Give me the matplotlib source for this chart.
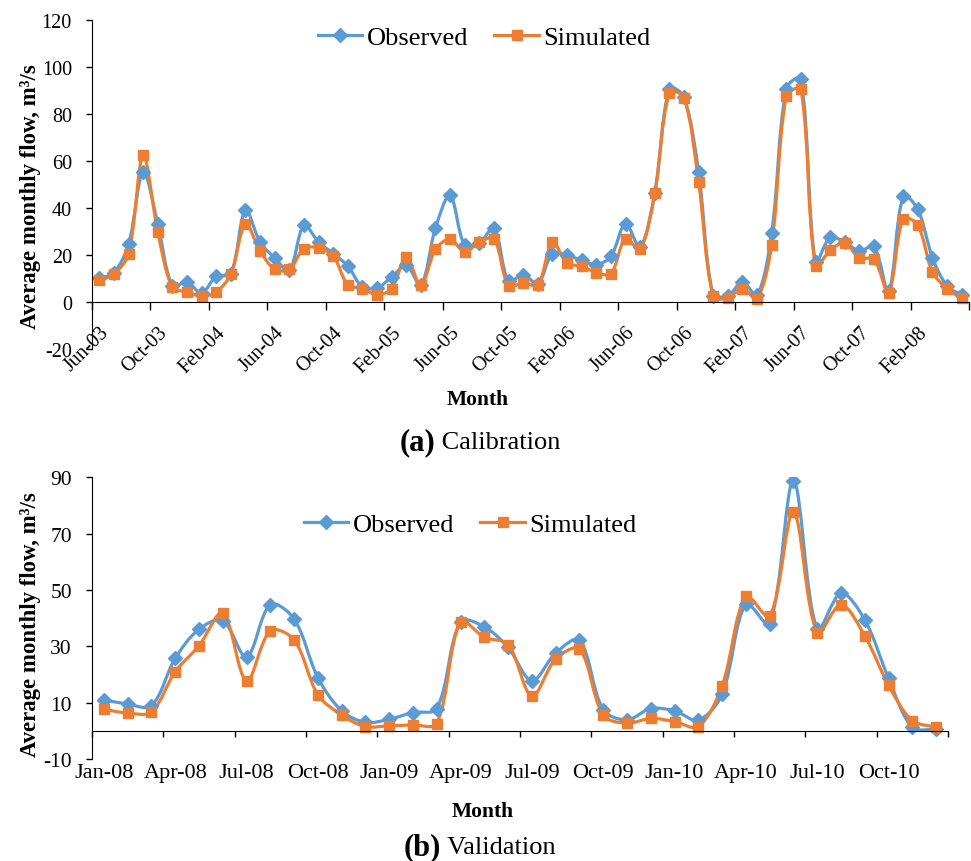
import numpy as np
import matplotlib
matplotlib.use("Agg")
import matplotlib.pyplot as plt
from matplotlib.path import Path
from matplotlib.patches import PathPatch
from matplotlib.lines import Line2D

plt.rcParams['font.family'] = ['Liberation Serif', 'DejaVu Serif']
plt.rcParams['axes.unicode_minus'] = False

# ---------------- data ----------------
cal_labels = ["Jun-03", "Oct-03", "Feb-04", "Jun-04", "Oct-04", "Feb-05", "Jun-05",
              "Oct-05", "Feb-06", "Jun-06", "Oct-06", "Feb-07", "Jun-07", "Oct-07", "Feb-08"]
cal_observed = [10.2, 12.5, 24.5, 55.3, 33.3, 6.8, 8.5, 3.8, 10.9, 11.9,
                39.0, 25.5, 18.7, 13.5, 32.6, 25.5, 20.6, 15.3, 6.4, 6.0,
                10.6, 15.6, 7.1, 31.5, 45.4, 24.1, 25.1, 31.5, 8.8, 11.6,
                7.8, 20.6, 19.9, 17.7, 15.9, 19.4, 33.3, 23.4, 46.4, 90.8,
                87.2, 55.3, 2.4, 2.4, 8.5, 2.8, 29.4, 90.8, 95.0, 17.0,
                27.5, 25.5, 21.7, 23.7, 4.5, 45.0, 39.4, 18.9, 6.8, 3.1]
cal_simulated = [9.2, 12.0, 20.4, 62.4, 29.8, 6.2, 4.3, 2.4, 4.3, 11.9,
                 33.2, 21.7, 13.9, 13.9, 22.7, 23.0, 19.6, 7.4, 5.7, 3.1,
                 5.7, 19.1, 7.1, 22.4, 26.7, 21.3, 25.5, 27.0, 6.8, 8.2,
                 7.1, 25.5, 16.6, 15.2, 12.5, 12.0, 27.0, 22.4, 46.4, 88.9,
                 87.0, 51.0, 2.4, 1.8, 5.7, 1.4, 24.4, 87.5, 90.5, 15.2,
                 22.0, 25.2, 18.7, 18.2, 4.0, 35.5, 32.6, 12.8, 5.7, 1.7]

val_labels = ["Jan-08", "Apr-08", "Jul-08", "Oct-08", "Jan-09", "Apr-09", "Jul-09",
              "Oct-09", "Jan-10", "Apr-10", "Jul-10", "Oct-10"]
val_observed = [11.0, 9.5, 8.9, 25.7, 36.1, 39.1, 26.3, 44.8, 39.7, 18.9,
                7.1, 3.0, 4.1, 6.5, 7.9, 38.7, 36.9, 29.6, 17.8, 27.6,
                32.2, 7.5, 3.9, 7.9, 7.1, 3.8, 13.0, 45.0, 37.9, 88.6,
                36.1, 48.8, 39.4, 18.7, 1.2, 0.8]
val_simulated = [7.7, 6.3, 6.7, 21.0, 30.2, 41.8, 17.8, 35.5, 32.3, 12.8,
                 5.6, 1.5, 1.8, 2.1, 2.6, 38.7, 33.2, 30.6, 12.4, 25.5,
                 29.0, 5.6, 2.7, 4.4, 3.3, 1.5, 16.0, 47.7, 40.6, 77.6,
                 34.9, 44.8, 33.7, 16.2, 3.6, 1.5]

BLUE = "#5B9BD5"
ORANGE = "#ED7D31"


def smooth_path(ax, x, y):
    """Excel-style smoothed line: cubic Bezier segments whose tangent lengths
    are weighted by neighbouring segment lengths measured on screen."""
    x = np.asarray(x, float)
    y = np.asarray(y, float)
    pts = np.column_stack([x, y])
    pix = ax.transData.transform(pts)
    n = len(x)
    seg = np.hypot(*(np.diff(pix, axis=0).T))

    def tangent(i):
        if i == 0 or i == n - 1:
            return np.zeros(2), 0.0, 0.0
        return pts[i + 1] - pts[i - 1], seg[i - 1], seg[i]

    verts = [tuple(pts[0])]
    codes = [Path.MOVETO]
    for i in range(n - 1):
        t0, a0, b0 = tangent(i)
        t1, a1, b1 = tangent(i + 1)
        k0 = (b0 / (a0 + b0) / 3.0) if (a0 + b0) > 0 else 0.0
        k1 = (a1 / (a1 + b1) / 3.0) if (a1 + b1) > 0 else 0.0
        c1 = pts[i] + t0 * k0
        c2 = pts[i + 1] - t1 * k1
        verts += [tuple(c1), tuple(c2), tuple(pts[i + 1])]
        codes += [Path.CURVE4] * 3
    return Path(verts, codes)


def draw_series(ax, y, color, marker, ms):
    x = np.arange(len(y))
    patch = PathPatch(smooth_path(ax, x, y), fill=False, edgecolor=color, lw=2.3,
                      capstyle='round', joinstyle='round')
    ax.add_patch(patch)
    ax.plot(x, y, linestyle='none', marker=marker, ms=ms, color=color,
            markeredgecolor=color)


fig = plt.figure(figsize=(9.71, 8.62), dpi=100)

# ---------------- top: calibration ----------------
ax1 = fig.add_axes([92 / 971, 1 - 350 / 862, 877 / 971, 329 / 862])
n1 = len(cal_observed)
ax1.set_xlim(-0.5, n1 - 0.5)
ax1.set_ylim(-20, 120)
draw_series(ax1, cal_observed, BLUE, 'D', 7.5)
draw_series(ax1, cal_simulated, ORANGE, 's', 7)
ax1.set_xlim(-0.5, n1 - 0.5)
ax1.set_ylim(-20, 120)
ax1.set_yticks(np.arange(-20, 121, 20))
ax1.set_xticks(np.arange(-0.5, n1, 4))
ax1.set_xticklabels([])
ax1.set_xticks(np.arange(0, n1, 4), minor=True)
ax1.set_xticklabels(cal_labels, minor=True)
ax1.tick_params(axis='x', which='major', direction='out', length=6, width=1)
ax1.tick_params(axis='x', which='minor', length=0, pad=15, labelsize=14.5,
                labelrotation=45)
ax1.tick_params(axis='y', direction='out', length=4.5, width=1, labelsize=14.5,
                pad=10)
ax1.spines['bottom'].set_position(('data', 0))
ax1.spines['top'].set_visible(False)
ax1.spines['right'].set_visible(False)
ax1.set_ylabel("Average monthly flow, m\u00b3/s", fontsize=16.4, fontweight='bold')
ax1.yaxis.set_label_coords(-0.058, 0.465)

# ---------------- bottom: validation ----------------
ax2 = fig.add_axes([92 / 971, 1 - 760 / 862, 856 / 971, 281.7 / 862])
n2 = len(val_observed)
ax2.set_xlim(-0.5, n2 - 0.5)
ax2.set_ylim(-10, 90)
draw_series(ax2, val_observed, BLUE, 'D', 7.5)
draw_series(ax2, val_simulated, ORANGE, 's', 7)
ax2.set_xlim(-0.5, n2 - 0.5)
ax2.set_ylim(-10, 90)
ax2.set_yticks(np.arange(-10, 91, 20))
ax2.set_xticks(np.arange(-0.5, n2, 3))
ax2.set_xticklabels([])
ax2.set_xticks(np.arange(0, n2, 3), minor=True)
ax2.set_xticklabels(val_labels, minor=True)
ax2.tick_params(axis='x', which='major', direction='out', length=4.5, width=1)
ax2.tick_params(axis='x', which='minor', length=0, pad=23, labelsize=16)
ax2.tick_params(axis='y', direction='out', length=4.5, width=1, labelsize=15.5,
                pad=10)
ax2.spines['bottom'].set_position(('data', 0))
ax2.spines['top'].set_visible(False)
ax2.spines['right'].set_visible(False)
ax2.set_ylabel("Average monthly flow, m\u00b3/s", fontsize=16.4, fontweight='bold')
ax2.yaxis.set_label_coords(-0.06, 0.48)

# ---------------- legends ----------------
handles = [Line2D([], [], color=BLUE, lw=2.3, marker='D', ms=7.5),
           Line2D([], [], color=ORANGE, lw=2.3, marker='s', ms=7)]
names = ["Observed", "Simulated"]
for yc, xc in [(1 - 38 / 862, 484 / 971), (1 - 525 / 862, 470 / 971)]:
    fig.legend(handles, names, loc='center', bbox_to_anchor=(xc, yc), ncol=2,
               frameon=False, fontsize=19, handlelength=1.7, handletextpad=0.15,
               columnspacing=1.0, borderpad=0, borderaxespad=0)

# ---------------- axis titles and captions ----------------
fig.text(478 / 971, 1 - 400 / 862, "Month", ha='center', va='center',
         fontsize=15.5, fontweight='bold')
fig.text(483 / 971, 1 - 812 / 862, "Month", ha='center', va='center',
         fontsize=15.5, fontweight='bold')

for yc, tag, word in [(1 - 443 / 862, "(a)", " Calibration"),
                      (1 - 848 / 862, "(b)", " Validation")]:
    t1 = fig.text(0, yc, tag, ha='left', va='center', fontsize=22, fontweight='bold')
    t2 = fig.text(0, yc, word, ha='left', va='center', fontsize=19)
    fig.canvas.draw()
    r = fig.canvas.get_renderer()
    w1 = t1.get_window_extent(r).width
    w2 = t2.get_window_extent(r).width
    x0 = 480 - (w1 + w2) / 2
    t1.set_x(x0 / 971)
    t2.set_x((x0 + w1) / 971)

fig.canvas.draw()
for lab in ax1.xaxis.get_minorticklabels():
    lab.set_rotation(45)
    lab.set_horizontalalignment('right')
    lab.set_verticalalignment('top')
    lab.set_rotation_mode('anchor')

fig.savefig("out.png", dpi=100)
